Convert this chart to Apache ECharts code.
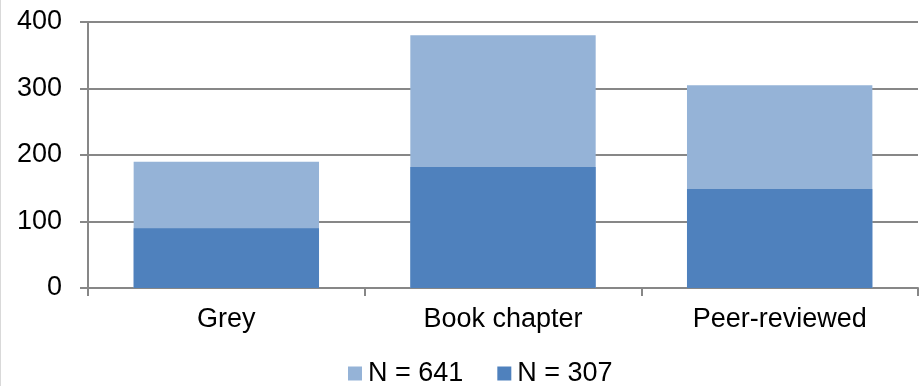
<!DOCTYPE html>
<html>
<head>
<meta charset="utf-8">
<style>
  html, body { margin: 0; padding: 0; background: #fff; }
  #chart { width: 923px; height: 386px; }
</style>
<script src="https://cdn.jsdelivr.net/npm/echarts@6/dist/echarts.min.js"></script>
</head>
<body>
<div id="chart"></div>
<script>
// Publication types and counts for the two samples
const categories = ['Grey', 'Book chapter', 'Peer-reviewed'];
const seriesNames = ['N = 641', 'N = 307'];
const valuesLarge = [190, 380, 305];
const valuesSmall = [90, 182, 149];
const yTicks = { min: 0, max: 400, interval: 100 };

const FONT = '"Liberation Sans", Arial, sans-serif';
const AXIS_GREY = '#878787';

const chart = echarts.init(document.getElementById('chart'), null, { renderer: 'canvas' });

chart.setOption({
  animation: false,
  backgroundColor: '#ffffff',
  textStyle: { fontFamily: FONT },
  grid: { left: 88, right: 5, top: 22, bottom: 98, containLabel: false },
  legend: {
    data: seriesNames,
    left: 348,
    top: 360,
    padding: 0,
    itemWidth: 14,
    itemHeight: 14,
    itemGap: 34,
    icon: 'rect',
    textStyle: { fontSize: 27, color: '#000', fontFamily: FONT, padding: [0, 0, 0, 1] }
  },
  xAxis: {
    type: 'category',
    data: categories,
    axisLine: { lineStyle: { color: AXIS_GREY, width: 2 } },
    axisTick: { show: true, length: 8, lineStyle: { color: AXIS_GREY, width: 2 } },
    axisLabel: { fontSize: 27, color: '#000', margin: 18, fontFamily: FONT },
    splitLine: { show: false }
  },
  yAxis: {
    type: 'value',
    min: yTicks.min,
    max: yTicks.max,
    interval: yTicks.interval,
    axisLine: { show: true, lineStyle: { color: AXIS_GREY, width: 2 } },
    axisTick: { show: true, length: 8, lineStyle: { color: AXIS_GREY, width: 2 } },
    axisLabel: { fontSize: 27, color: '#000', margin: 26, fontFamily: FONT },
    splitLine: { show: true, lineStyle: { color: AXIS_GREY, width: 2 } }
  },
  series: [
    {
      name: seriesNames[0],
      type: 'bar',
      data: valuesLarge,
      barWidth: '67%',
      barGap: '-100%',
      itemStyle: { color: '#95b3d7' }
    },
    {
      name: seriesNames[1],
      type: 'bar',
      data: valuesSmall,
      barWidth: '67%',
      barGap: '-100%',
      itemStyle: { color: '#4f81bd' }
    }
  ],
  graphic: [
    {
      type: 'rect',
      shape: { x: 0, y: 0, width: 1, height: 386 },
      style: { fill: '#d9d9d9' },
      silent: true
    }
  ]
});
</script>
</body>
</html>
